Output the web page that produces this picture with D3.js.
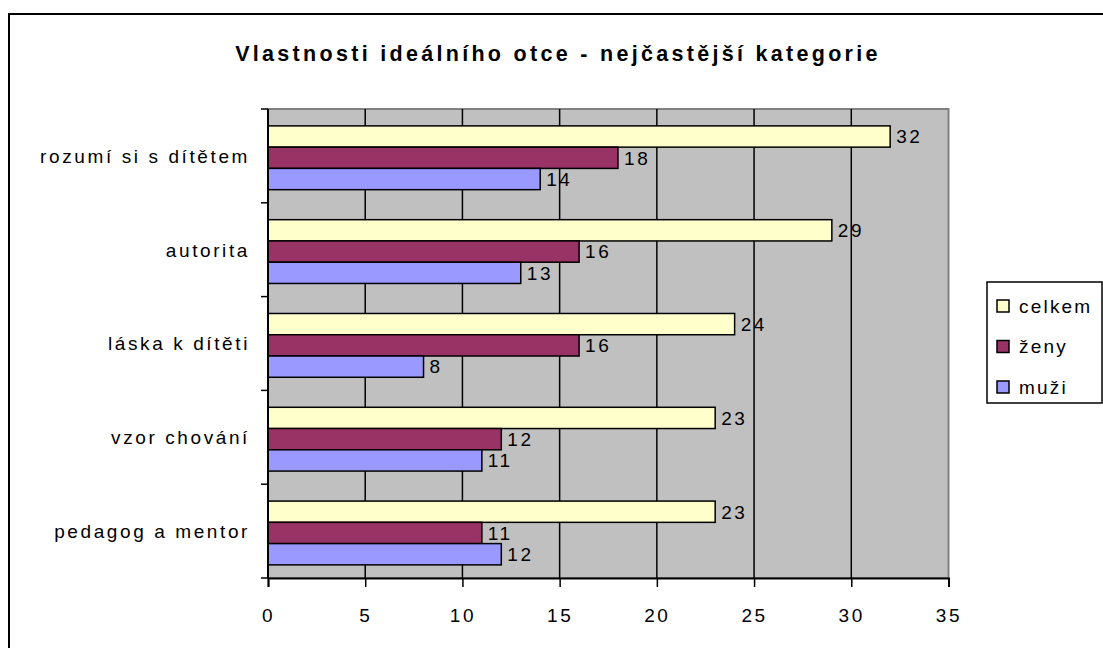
<!DOCTYPE html>
<html>
<head>
<meta charset="utf-8">
<script src="https://cdn.jsdelivr.net/npm/d3@7"></script>
<style>
  body { margin: 0; background: #fff; }
  svg { display: block; font-family: "Liberation Sans", Arial, sans-serif; }
</style>
</head>
<body>
<div id="chart"></div>
<script>
// values
const categories = ["rozumí si s dítětem", "autorita", "láska k dítěti", "vzor chování", "pedagog a mentor"];
const seriesNames = ["celkem", "ženy", "muži"];
const celkem = [32, 29, 24, 23, 23];
const zeny = [18, 16, 16, 12, 11];
const muzi = [14, 13, 8, 11, 12];
const seriesColors = ["#FFFFCC", "#993366", "#9999FF"];
const xTicks = [0, 5, 10, 15, 20, 25, 30, 35];

const seriesValues = [celkem, zeny, muzi];
const rows = categories.map((c, i) => ({
    cat: c,
    vals: seriesNames.map((s, j) => ({ key: s, value: seriesValues[j][i] }))
}));

const width = 1103, height = 648;
const plot = { left: 268, top: 109, right: 948.5, bottom: 578 };
const fs = 19, ls = 2.6;

const svg = d3.select("#chart").append("svg")
    .attr("width", width)
    .attr("height", height);

// outer chart border (runs past the right and bottom edges)
svg.append("rect")
    .attr("x", 9).attr("y", 14)
    .attr("width", 1110).attr("height", 660)
    .attr("fill", "#fff")
    .attr("stroke", "#000")
    .attr("stroke-width", 2);

svg.append("text")
    .attr("x", 558).attr("y", 61)
    .attr("text-anchor", "middle")
    .attr("font-size", 21.5)
    .attr("font-weight", "bold")
    .attr("letter-spacing", 3.3)
    .text("Vlastnosti ideálního otce - nejčastější kategorie");

const x = d3.scaleLinear().domain([0, 35]).range([plot.left, plot.right]);
const y = d3.scaleBand().domain(categories).range([plot.top, plot.bottom]).padding(0);
const bw = y.bandwidth();
const ys = d3.scaleBand().domain(seriesNames).range([bw * 0.18, bw * 0.86]).padding(0);

// plot background
svg.append("rect")
    .attr("x", plot.left).attr("y", plot.top)
    .attr("width", plot.right - plot.left).attr("height", plot.bottom - plot.top)
    .attr("fill", "#C0C0C0")
    .attr("stroke", "#808080")
    .attr("stroke-width", 2);

// vertical grid
svg.append("g")
    .selectAll("line")
    .data(xTicks.slice(1, -1))
    .join("line")
    .attr("x1", d => x(d)).attr("x2", d => x(d))
    .attr("y1", plot.top).attr("y2", plot.bottom)
    .attr("stroke", "#000")
    .attr("stroke-width", 1.5);

// bars
const groups = svg.append("g")
    .selectAll("g")
    .data(rows)
    .join("g")
    .attr("transform", d => `translate(0,${y(d.cat)})`);

groups.selectAll("rect")
    .data(d => d.vals)
    .join("rect")
    .attr("x", x(0))
    .attr("y", d => ys(d.key))
    .attr("width", d => x(d.value) - x(0))
    .attr("height", ys.bandwidth())
    .attr("fill", (d, i) => seriesColors[i])
    .attr("stroke", "#000")
    .attr("stroke-width", 1.5);

groups.selectAll("text")
    .data(d => d.vals)
    .join("text")
    .attr("x", d => x(d.value) + 6)
    .attr("y", d => ys(d.key) + ys.bandwidth() / 2)
    .attr("dy", "0.36em")
    .attr("font-size", fs)
    .attr("letter-spacing", ls)
    .attr("fill", "#000")
    .text(d => d.value);

// x axis
const xAxis = svg.append("g")
    .attr("transform", `translate(0,${plot.bottom})`)
    .call(d3.axisBottom(x).tickValues(xTicks).tickSize(9).tickPadding(22).tickFormat(d3.format("d")));
xAxis.select(".domain").attr("stroke", "#000").attr("stroke-width", 2);
xAxis.selectAll(".tick line").attr("stroke", "#000").attr("stroke-width", 1.5);
xAxis.selectAll(".tick text")
    .attr("font-size", fs)
    .attr("letter-spacing", ls)
    .attr("font-family", "Liberation Sans, Arial, sans-serif")
    .attr("fill", "#000");

// y axis: line, boundary ticks, labels
svg.append("line")
    .attr("x1", plot.left).attr("x2", plot.left)
    .attr("y1", plot.top).attr("y2", plot.bottom)
    .attr("stroke", "#000").attr("stroke-width", 2);

svg.append("g")
    .selectAll("line")
    .data(d3.range(categories.length + 1))
    .join("line")
    .attr("x1", plot.left - 7).attr("x2", plot.left)
    .attr("y1", i => plot.top + i * bw).attr("y2", i => plot.top + i * bw)
    .attr("stroke", "#000").attr("stroke-width", 1.5);

svg.append("g")
    .selectAll("text")
    .data(categories)
    .join("text")
    .attr("x", 250)
    .attr("y", d => y(d) + bw / 2)
    .attr("dy", "0.36em")
    .attr("text-anchor", "end")
    .attr("font-size", fs)
    .attr("letter-spacing", ls)
    .text(d => d);

// legend
const legend = svg.append("g").attr("transform", "translate(987,282)");
legend.append("rect")
    .attr("width", 115).attr("height", 121)
    .attr("fill", "#fff")
    .attr("stroke", "#000")
    .attr("stroke-width", 1.5);

const items = legend.selectAll("g.item")
    .data(seriesNames)
    .join("g")
    .attr("class", "item")
    .attr("transform", (d, i) => `translate(10,${24 + i * 40.5})`);

items.append("rect")
    .attr("x", 0).attr("y", -6)
    .attr("width", 12).attr("height", 12)
    .attr("fill", (d, i) => seriesColors[i])
    .attr("stroke", "#000")
    .attr("stroke-width", 1.5);

items.append("text")
    .attr("x", 22).attr("dy", "0.36em")
    .attr("font-size", fs)
    .attr("letter-spacing", 2.2)
    .text(d => d);
</script>
</body>
</html>
